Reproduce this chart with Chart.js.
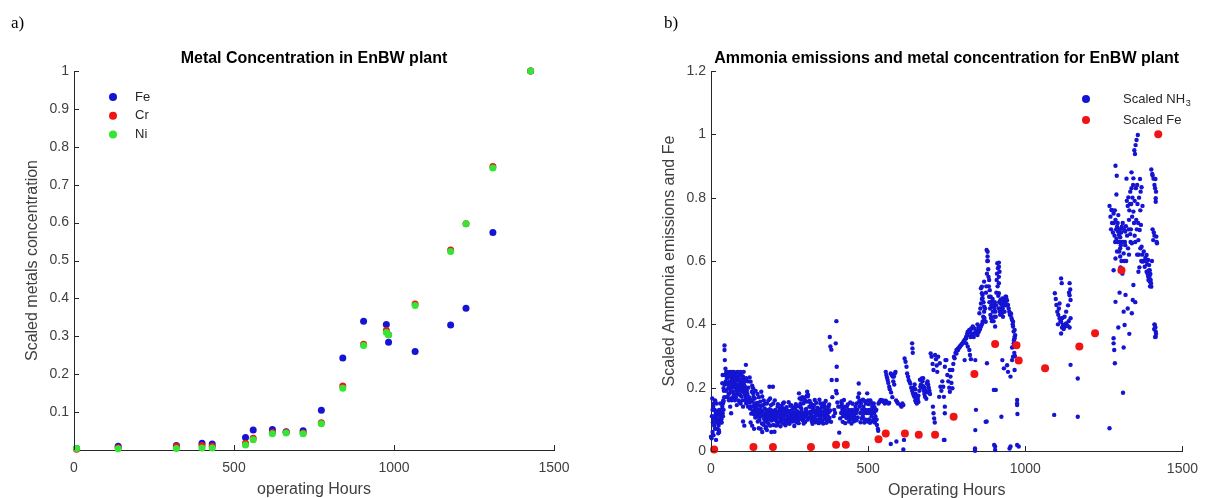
<!DOCTYPE html>
<html>
<head>
<meta charset="utf-8">
<script src="https://cdn.jsdelivr.net/npm/chart.js@4.4.1/dist/chart.umd.min.js"></script>
<style>
html, body { margin: 0; padding: 0; background: #fff; }
#wrap { position: relative; width: 1208px; height: 498px; overflow: hidden; }
canvas { position: absolute; top: 0; }
#metals { left: 0; }
#ammonia { left: 600px; }
</style>
</head>
<body>
<div id="wrap">
  <canvas id="metals" width="600" height="498"></canvas>
  <canvas id="ammonia" width="608" height="498"></canvas>
</div>
<script>
// ---- a) metal concentration ---------------------------------------------
const metalHours = [8, 138, 320, 400, 432, 536, 560, 620, 663, 716, 773, 840, 905, 976, 983, 1066, 1177, 1225, 1309, 1427];
const feConc = [0.004, 0.010, 0.012, 0.018, 0.016, 0.033, 0.053, 0.054, 0.048, 0.051, 0.105, 0.243, 0.340, 0.331, 0.284, 0.260, 0.330, 0.374, 0.574, 1.0];
const crConc = [0.002, 0.006, 0.010, 0.012, 0.010, 0.018, 0.031, 0.046, 0.047, 0.045, 0.072, 0.169, 0.279, 0.315, 0.304, 0.385, 0.528, 0.597, 0.748, 1.0];
const niConc = [0.004, 0.003, 0.004, 0.005, 0.005, 0.013, 0.027, 0.043, 0.045, 0.043, 0.069, 0.163, 0.276, 0.310, 0.304, 0.381, 0.524, 0.597, 0.744, 1.0];

const hourTicks = [0, 500, 1000, 1500];
const metalTicks = [0.1, 0.2, 0.3, 0.4, 0.5, 0.6, 0.7, 0.8, 0.9, 1];

// ---- b) ammonia + Fe ------------------------------------------------------
const feHours = [10, 135, 197, 318, 398, 429, 533, 556, 617, 661, 713, 772, 838, 904, 972, 979, 1063, 1172, 1222, 1306, 1423];
const feScaled = [0.005, 0.013, 0.013, 0.013, 0.02, 0.02, 0.037, 0.055, 0.055, 0.051, 0.051, 0.108, 0.243, 0.338, 0.334, 0.286, 0.261, 0.33, 0.372, 0.571, 1.0];
const ammoniaTicks = [0, 0.2, 0.4, 0.6, 0.8, 1, 1.2];

// [hours, scaled NH3]
const nh3Points = [
  // start-up
  [0,0.045],[2,0.04],[3,0.11],[4,0.166],[5,0.06],[6,0.09],[7,0.14],[8,0.05],[9,0.10],[10,0.08],[11,0.11],[12,0.13],[13,0.07],[14,0.10],
  [15,0.12],[16,0.035],[17,0.09],[18,0.11],[19,0.124],[20,0.07],[21,0.10],[22,0.12],[23,0.056],[24,0.08],[25,0.066],[26,0.13],[27,0.09],
  [28,0.10],[29,0.114],[30,0.09],[31,0.11],[32,0.13],[33,0.10],[34,0.12],[35,0.108],[36,0.14],[37,0.119],[38,0.15],[39,0.16],[40,0.13],
  [41,0.19],[42,0.17],[43,0.21],[44,0.24],
  [5,0.13],[9,0.15],[13,0.16],[18,0.15],[22,0.09],[26,0.06],[30,0.15],[34,0.09],[38,0.11],
  // first hump
  [43,0.333],[43,0.319],[44,0.287],[37,0.24],[36,0.214],[40,0.198],[40,0.156],[45,0.24],[50,0.249],[53,0.24],[57,0.249],[61,0.235],[52,0.214],
  [55,0.198],[58,0.182],[63,0.166],[61,0.14],[64,0.119],[69,0.187],[73,0.203],[76,0.219],[79,0.245],[82,0.235],[85,0.224],[87,0.209],
  [90,0.198],[92,0.177],[90,0.156],[82,0.145],[94,0.15],[97,0.219],[100,0.227],[102,0.235],[106,0.221],[108,0.203],[100,0.187],[97,0.172],
  [102,0.093],[106,0.08],[111,0.272],[113,0.198],[102,0.14],[47,0.22],[48,0.19],[49,0.17],[51,0.23],[54,0.21],[56,0.18],[59,0.2],[60,0.22],
  [62,0.19],[65,0.21],[66,0.23],[67,0.25],[68,0.2],[70,0.22],[71,0.24],[72,0.18],[74,0.21],[75,0.23],[77,0.2],[78,0.22],[80,0.19],[81,0.21],
  [83,0.18],[84,0.2],[86,0.23],[88,0.19],[89,0.21],[91,0.2],[93,0.22],[95,0.19],[96,0.21],[98,0.2],[99,0.23],[101,0.2],[103,0.22],[104,0.19],
  [105,0.21],[107,0.18],[109,0.2],[110,0.17],[112,0.15],[114,0.19],[115,0.16],[116,0.18],[118,0.14],
  [46,0.26],[49,0.25],[53,0.17],[57,0.16],[60,0.25],[63,0.24],[66,0.16],[70,0.17],[73,0.25],[76,0.16],[79,0.17],[84,0.25],[87,0.16],
  [91,0.24],[94,0.25],[97,0.24],[100,0.16],[104,0.25],[108,0.16],[112,0.23],[117,0.22],[119,0.2],
  // 120 - 210 h
  [123,0.232],[126,0.219],[131,0.206],[134,0.198],[130,0.187],[134,0.182],[129,0.156],[136,0.14],[134,0.124],[139,0.166],[142,0.15],
  [145,0.135],[146,0.108],[149,0.093],[152,0.072],[155,0.124],[157,0.156],[160,0.187],[163,0.172],[165,0.145],[170,0.114],[173,0.093],
  [175,0.077],[178,0.066],[181,0.103],[184,0.124],[186,0.203],[188,0.166],[191,0.145],[194,0.124],[196,0.108],[198,0.082],[202,0.061],
  [205,0.13],[207,0.114],[209,0.093],[121,0.17],[122,0.153],[124,0.134],[125,0.162],[127,0.141],[128,0.118],[132,0.158],[133,0.127],[135,0.171],
  [137,0.116],[138,0.147],[140,0.133],[141,0.106],[143,0.139],[144,0.121],[147,0.128],[148,0.152],[150,0.113],[151,0.144],[153,0.117],[154,0.098],
  [156,0.131],[158,0.109],[159,0.142],[161,0.122],[162,0.087],[164,0.127],[166,0.112],[167,0.083],[168,0.118],[169,0.101],[171,0.134],[172,0.107],
  [174,0.072],[176,0.123],[177,0.097],[179,0.129],[180,0.113],[182,0.088],[183,0.119],[185,0.102],[187,0.132],[189,0.108],[190,0.121],[192,0.096],
  [193,0.128],[195,0.111],[197,0.203],[199,0.117],[200,0.099],[201,0.126],[203,0.107],[204,0.122],[206,0.101],[208,0.118],[210,0.106],
  [126,0.09],[131,0.08],[137,0.07],[142,0.19],[148,0.18],[152,0.17],[158,0.07],[163,0.06],[168,0.16],[172,0.15],[178,0.15],[183,0.16],
  [188,0.08],[192,0.06],[198,0.15],[203,0.16],[207,0.08],
  // 210 - 380 h
  [212,0.14],[215,0.124],[217,0.108],[222,0.093],[226,0.119],[228,0.135],[233,0.124],[238,0.114],[243,0.103],[248,0.098],[254,0.103],
  [259,0.108],[264,0.114],[269,0.119],[275,0.114],[280,0.182],[282,0.166],[285,0.15],[287,0.135],[290,0.119],[292,0.098],[295,0.087],
  [299,0.114],[301,0.13],[303,0.156],[306,0.187],[309,0.177],[311,0.156],[313,0.14],[316,0.124],[319,0.108],[321,0.093],[324,0.135],
  [327,0.145],[330,0.161],[332,0.124],[337,0.114],[340,0.13],[342,0.119],[348,0.114],[353,0.124],[358,0.14],[363,0.13],[368,0.114],
  [372,0.124],[374,0.14],[214,0.117],[216,0.106],[218,0.092],[220,0.123],[223,0.098],[225,0.112],[227,0.128],[229,0.103],[231,0.109],[234,0.121],
  [236,0.097],[239,0.113],[241,0.118],[244,0.101],[246,0.107],[249,0.124],[251,0.096],[253,0.115],[256,0.119],[258,0.102],[261,0.108],[263,0.097],
  [266,0.122],[268,0.111],[271,0.104],[273,0.117],[276,0.109],[278,0.098],[281,0.121],[283,0.113],[286,0.102],[288,0.125],[291,0.108],[293,0.096],
  [296,0.118],[298,0.107],[300,0.092],[302,0.123],[304,0.112],[307,0.099],[310,0.121],[312,0.106],[315,0.103],[317,0.119],[320,0.113],[322,0.097],
  [325,0.124],[328,0.108],[331,0.101],[334,0.117],[336,0.112],[339,0.098],[341,0.114],[344,0.122],[346,0.103],[349,0.109],[351,0.118],[354,0.097],
  [356,0.113],[359,0.121],[361,0.102],[364,0.107],[366,0.119],[369,0.099],[371,0.112],[375,0.123],[377,0.104],[229,0.15],[255,0.145],[268,0.14],
  [300,0.16],[290,0.17],[305,0.175],[318,0.15],[348,0.15],[360,0.15],
  [211,0.083],[213,0.148],[219,0.133],[221,0.078],[224,0.142],[230,0.087],[232,0.153],[235,0.131],[237,0.081],[240,0.138],[242,0.089],[245,0.127],
  [247,0.154],[250,0.086],[252,0.143],[257,0.129],[260,0.093],[262,0.137],[265,0.079],[267,0.134],[270,0.148],[272,0.091],[274,0.126],[277,0.141],
  [279,0.088],[284,0.144],[289,0.163],[294,0.151],[297,0.168],[303,0.133],[308,0.172],[314,0.158],[319,0.139],[323,0.086],[326,0.143],[329,0.128],
  [333,0.091],[335,0.152],[338,0.137],[343,0.088],[345,0.162],[347,0.131],[350,0.092],[352,0.138],[355,0.149],[357,0.087],[362,0.141],[365,0.158],
  [367,0.089],[370,0.132],[373,0.094],[376,0.147],[379,0.128],[382,0.092],
  // spike near 400 h
  [378,0.36],[380,0.33],[383,0.32],[384,0.224],[386,0.17],[397,0.34],[399,0.41],[400,0.266],[400,0.224],[398,0.19],[400,0.182],[402,0.153],
  [405,0.14],[408,0.058],[395,0.12],[390,0.11],[392,0.13],
  // 410 - 530 h
  [412,0.14],[414,0.12],[416,0.15],[418,0.13],[420,0.11],[422,0.14],[424,0.12],[426,0.13],[428,0.11],[430,0.12],[432,0.14],[434,0.12],
  [436,0.11],[438,0.13],[440,0.12],[442,0.1],[444,0.12],[446,0.11],[448,0.13],[450,0.12],[452,0.1],[454,0.12],[456,0.11],[458,0.13],
  [460,0.14],[462,0.12],[464,0.15],[466,0.13],[468,0.17],[470,0.213],[471,0.182],[473,0.14],[475,0.12],[477,0.15],[479,0.16],[481,0.13],
  [483,0.11],[485,0.14],[487,0.12],[489,0.1],[491,0.13],[493,0.15],[495,0.12],[497,0.182],[499,0.129],[501,0.12],[503,0.1],[505,0.13],
  [507,0.16],[509,0.12],[511,0.11],[513,0.14],[515,0.13],[517,0.1],[519,0.12],[521,0.09],[523,0.11],[525,0.098],[527,0.1],[528,0.082],
  [531,0.07],[532,0.064],[526,0.13],[518,0.15],[500,0.16],[488,0.09],
  [411,0.103],[415,0.157],[419,0.092],[423,0.161],[427,0.088],[431,0.104],[435,0.147],[439,0.093],[443,0.153],[447,0.087],[451,0.149],[455,0.094],
  [459,0.102],[463,0.097],[467,0.106],[472,0.158],[476,0.091],[480,0.103],[484,0.162],[490,0.157],[494,0.098],[498,0.093],[502,0.148],[506,0.089],
  [510,0.152],[514,0.094],[520,0.138],[524,0.127],
  // 530 - 600 h
  [533,0.15],[536,0.155],[539,0.16],[541,0.161],[544,0.158],[547,0.16],[550,0.155],[553,0.15],[556,0.159],[559,0.155],[562,0.152],
  [565,0.15],[567,0.152],[556,0.25],[558,0.24],[560,0.232],[562,0.224],[564,0.215],[567,0.203],[569,0.195],[572,0.245],[575,0.24],
  [578,0.235],[582,0.235],[585,0.245],[587,0.25],[580,0.22],[583,0.21],[573,0.185],[577,0.17],[589,0.16],[592,0.155],[595,0.15],
  [572,0.022],[590,0.03],
  // 600 - 720 h
  [603,0.145],[606,0.14],[609,0.15],[612,0.145],[614,0.035],[612,0.005],[616,0.292],[619,0.282],[622,0.266],[624,0.245],[627,0.235],
  [629,0.224],[632,0.218],[634,0.213],[637,0.2],[640,0.19],[643,0.182],[645,0.176],[647,0.171],[650,0.16],[652,0.155],[655,0.15],
  [640,0.34],[641,0.324],[642,0.31],[645,0.2],[648,0.21],[651,0.18],[655,0.17],[658,0.165],[660,0.175],[663,0.19],[666,0.203],
  [668,0.21],[671,0.229],[673,0.22],[675,0.205],[677,0.19],[679,0.18],[681,0.171],[684,0.19],[687,0.213],[689,0.22],[691,0.21],
  [693,0.2],[695,0.19],[697,0.18],[699,0.308],[702,0.298],[705,0.275],[708,0.256],[706,0.14],[708,0.119],[710,0.103],[712,0.09],
  [713,0.303],[716,0.29],[718,0.27],[720,0.25],[665,0.225],[670,0.2],[675,0.23],[680,0.2],[685,0.165],[690,0.185],[660,0.155],[650,0.195],
  // 720 - 830 h
  [723,0.298],[726,0.171],[728,0.277],[730,0.203],[733,0.19],[736,0.22],[739,0.203],[741,0.171],[744,0.14],[743,0.035],[744,0.266],
  [746,0.287],[749,0.287],[752,0.24],[755,0.22],[758,0.2],[760,0.187],[760,0.256],[762,0.235],[765,0.215],[768,0.198],[768,0.256],
  [771,0.275],[773,0.298],[775,0.293],[778,0.31],[781,0.308],[781,0.319],[784,0.32],[786,0.319],[786,0.324],[789,0.325],[791,0.33],
  [793,0.33],[796,0.335],[798,0.338],[801,0.34],[803,0.345],[806,0.35],[807,0.287],[810,0.355],[812,0.361],[812,0.356],[815,0.37],
  [817,0.366],[817,0.377],[820,0.375],[822,0.382],[822,0.377],[825,0.38],[828,0.387],[830,0.37],[833,0.393],[744,0.119],[741,0.035],
  // 810 - 990 h
  [812,0.34],[817,0.33],[822,0.319],[824,0.303],[827,0.29],[838,0.387],[841,0.375],[843,0.372],[845,0.38],[848,0.366],[851,0.375],
  [854,0.382],[856,0.385],[859,0.393],[862,0.4],[864,0.408],[867,0.41],[869,0.414],[841,0.287],[843,0.13],[841,0.066],[840,0.008],
  [840,0.001],[854,0.435],[857,0.45],[859,0.466],[862,0.48],[864,0.493],[862,0.519],[869,0.535],[859,0.514],[862,0.498],[864,0.482],
  [867,0.47],[869,0.456],[869,0.44],[866,0.424],[874,0.408],[874,0.092],[877,0.635],[880,0.629],[880,0.614],[882,0.574],[883,0.55],
  [885,0.54],[887,0.508],[890,0.487],[885,0.487],[893,0.471],[895,0.456],[897,0.44],[901,0.424],[904,0.393],[878,0.277],[877,0.093],
  [900,0.193],[906,0.193],[904,0.003],[901,0.019],[904,0.014],[906,0.424],[911,0.593],[913,0.577],[916,0.595],[916,0.582],[918,0.566],
  [916,0.55],[916,0.53],[916,0.498],[916,0.45],[921,0.466],[921,0.477],[921,0.45],[925,0.435],[927,0.46],[927,0.482],[929,0.424],
  [932,0.471],[935,0.482],[937,0.487],[939,0.487],[942,0.475],[945,0.461],[927,0.287],[924,0.108],[932,0.261],[942,0.271],[945,0.25],
  [953,0.235],[953,0.435],[950,0.008],[953,0.014],[955,0.433],[958,0.414],[961,0.408],[961,0.393],[963,0.377],[966,0.382],[966,0.361],
  [968,0.366],[966,0.356],[963,0.34],[963,0.33],[961,0.298],[958,0.327],[958,0.287],[966,0.256],[974,0.161],[974,0.15],[974,0.145],
  [975,0.117],[974,0.019],[979,0.014],
  [870,0.42],[872,0.45],[875,0.5],[876,0.52],[878,0.56],[879,0.6],[881,0.6],[884,0.52],[886,0.47],[888,0.45],[889,0.43],[891,0.42],
  [892,0.46],[894,0.41],[896,0.48],[898,0.46],[899,0.41],[902,0.45],[903,0.47],[905,0.44],[907,0.46],[908,0.5],[909,0.54],[910,0.56],
  [912,0.52],[914,0.49],[917,0.47],[919,0.44],[920,0.43],[923,0.47],[926,0.44],[928,0.45],[930,0.44],[931,0.47],[933,0.46],[934,0.44],
  [936,0.47],[938,0.46],[940,0.48],[943,0.46],[947,0.45],[949,0.44],[951,0.43],[956,0.42],[960,0.4],[964,0.35],[965,0.31],[967,0.3],
  [969,0.33],[848,0.4],[851,0.39],[846,0.37],[836,0.36],[832,0.37],[826,0.36],
  // 1090 - 1170 h
  [1092,0.114],[1094,0.498],[1097,0.48],[1099,0.461],[1102,0.44],[1105,0.43],[1109,0.419],[1109,0.466],[1112,0.41],[1114,0.545],
  [1114,0.408],[1114,0.371],[1116,0.53],[1117,0.39],[1120,0.398],[1122,0.385],[1125,0.424],[1127,0.4],[1130,0.403],[1130,0.44],
  [1133,0.395],[1135,0.395],[1138,0.41],[1141,0.53],[1141,0.492],[1141,0.39],[1143,0.51],[1144,0.477],[1144,0.419],[1144,0.272],
  [1167,0.229],[1167,0.108],[1104,0.4],[1107,0.45],[1118,0.42],[1124,0.39],[1136,0.46],[1139,0.5],
  // 1265 - 1420 h
  [1268,0.072],[1268,0.774],[1274,0.761],[1281,0.75],[1287,0.73],[1292,0.708],[1295,0.693],[1298,0.682],[1302,0.675],[1307,0.708],
  [1318,0.693],[1334,0.685],[1339,0.656],[1318,0.65],[1302,0.64],[1313,0.624],[1292,0.63],[1302,0.614],[1287,0.608],[1281,0.571],
  [1287,0.901],[1291,0.869],[1281,0.356],[1281,0.34],[1283,0.319],[1285,0.277],[1287,0.471],[1311,0.184],[1313,0.327],[1316,0.398],
  [1313,0.44],[1319,0.493],[1339,0.435],[1342,0.477],[1344,0.524],[1344,0.861],[1365,0.859],[1370,0.833],[1367,0.819],[1334,0.819],
  [1328,0.801],[1326,0.774],[1344,0.756],[1340,0.74],[1373,0.774],[1368,0.714],[1364,0.698],[1358,0.998],[1354,0.982],[1351,0.966],
  [1347,0.95],[1349,0.938],[1401,0.889],[1404,0.875],[1414,0.859],[1416,0.819],[1415,0.798],[1415,0.787],[1360,0.666],[1370,0.645],
  [1377,0.63],[1386,0.619],[1391,0.603],[1394,0.587],[1396,0.571],[1398,0.559],[1373,0.598],[1380,0.582],[1386,0.566],[1360,0.566],
  [1391,0.551],[1401,0.519],[1396,0.535],[1409,0.69],[1417,0.677],[1419,0.656],[1407,0.666],[1412,0.398],[1415,0.377],[1415,0.361],
  [1410,0.385],[1414,0.39],[1300,0.66],[1305,0.69],[1310,0.72],[1296,0.745],[1285,0.76],[1276,0.72],[1330,0.62],[1336,0.7],[1348,0.79],
  [1352,0.83],[1356,0.84],[1362,0.8],[1366,0.76],[1350,0.66],[1356,0.62],[1323,0.79],[1330,0.73],
  [1271,0.74],[1273,0.7],[1277,0.76],[1279,0.69],[1282,0.72],[1284,0.68],[1286,0.66],[1289,0.7],[1290,0.67],[1293,0.66],[1294,0.72],
  [1297,0.7],[1299,0.63],[1301,0.7],[1303,0.58],[1304,0.65],[1306,0.6],[1308,0.66],[1309,0.56],[1312,0.66],[1314,0.7],[1315,0.6],
  [1317,0.66],[1320,0.71],[1321,0.6],[1324,0.68],[1327,0.64],[1329,0.7],[1331,0.76],[1333,0.78],[1335,0.66],[1337,0.78],[1338,0.83],
  [1341,0.8],[1343,0.84],[1346,0.72],[1348,0.68],[1353,0.73],[1355,0.7],[1357,0.78],[1359,0.72],[1361,0.62],[1363,0.58],[1366,0.64],
  [1369,0.6],[1372,0.62],[1375,0.6],[1378,0.6],[1382,0.61],[1384,0.6],[1388,0.59],[1389,0.56],[1392,0.54],[1393,0.57],[1395,0.55],
  [1397,0.52],[1399,0.54],[1400,0.53],[1403,0.6],[1405,0.87],[1408,0.86],[1411,0.84],[1413,0.83],[1405,0.7],[1411,0.68],[1418,0.66],
  [1416,0.37],[1413,0.36],[1411,0.4],[1296,0.39],[1300,0.5],[1326,0.45],[1331,0.37],[1350,0.47],[1290,0.81],[1322,0.86],[1338,0.88]
];

// ---- colours / fonts -----------------------------------------------------
const BLUE = '#1414d2', RED = '#f01414', GREEN = '#33e633';
const AXIS = '#262626', TICKTXT = '#404040';
Chart.defaults.font.family = '"Liberation Sans", Arial, sans-serif';

function toXY(xs, ys) { return xs.map((x, i) => ({ x: x, y: ys[i] })); }

// inward ticks, titles, legend, panel label
function decor(o) {
  return {
    id: 'decor',
    afterDraw(chart) {
      const ctx = chart.ctx, a = chart.chartArea;
      const xs = chart.scales.x, ys = chart.scales.y;
      ctx.save();
      ctx.strokeStyle = AXIS;
      ctx.lineWidth = 1;
      ctx.beginPath();
      o.xTicks.forEach(v => {
        const px = Math.round(xs.getPixelForValue(v)) + 0.5;
        ctx.moveTo(px, a.bottom); ctx.lineTo(px, a.bottom - 5);
      });
      o.yTicks.forEach(v => {
        const py = Math.round(ys.getPixelForValue(v)) + 0.5;
        ctx.moveTo(a.left, py); ctx.lineTo(a.left + 5, py);
      });
      ctx.stroke();

      const cx = (a.left + a.right) / 2, cy = (a.top + a.bottom) / 2;
      // panel label
      ctx.fillStyle = '#000';
      ctx.font = '17px "Liberation Serif", serif';
      ctx.textAlign = 'left';
      ctx.textBaseline = 'alphabetic';
      ctx.fillText(o.panel, o.panelX, 28);
      // title
      ctx.font = 'bold 16px "Liberation Sans", Arial';
      ctx.textAlign = 'center';
      ctx.fillText(o.title, cx, a.top - 8);
      // axis titles
      ctx.fillStyle = TICKTXT;
      ctx.font = '16px "Liberation Sans", Arial';
      ctx.fillText(o.xTitle, cx, a.bottom + 44);
      ctx.save();
      ctx.translate(a.left - 41, cy);
      ctx.rotate(-Math.PI / 2);
      ctx.textBaseline = 'middle';
      ctx.fillText(o.yTitle, 0, 0);
      ctx.restore();
      // legend
      ctx.textAlign = 'left';
      ctx.textBaseline = 'middle';
      o.legend.forEach((it, i) => {
        const y = a.top + o.legendTop + i * o.legendStep;
        ctx.fillStyle = it.color;
        ctx.beginPath();
        ctx.arc(a.left + o.legendMarkX, y, 4, 0, Math.PI * 2);
        ctx.fill();
        ctx.fillStyle = '#262626';
        ctx.font = '13px "Liberation Sans", Arial';
        const tx = a.left + o.legendTextX;
        ctx.fillText(it.label, tx, y);
        if (it.sub) {
          const w = ctx.measureText(it.label).width;
          ctx.font = '9px "Liberation Sans", Arial';
          ctx.fillText(it.sub, tx + w + 0.5, y + 5);
        }
      });
      ctx.restore();
    }
  };
}

function axes(xTicks, yTicks, yMax, yWidth, xHeight) {
  const tickFont = { size: 14 };
  return {
    x: {
      type: 'linear', min: 0, max: 1500,
      afterBuildTicks: s => { s.ticks = xTicks.map(v => ({ value: v })); },
      afterFit: s => { s.height = xHeight; },
      grid: { display: false, drawTicks: false },
      border: { display: true, color: AXIS, width: 1 },
      ticks: { color: TICKTXT, font: tickFont, padding: 10, maxRotation: 0, callback: v => String(v) }
    },
    y: {
      type: 'linear', min: 0, max: yMax,
      afterBuildTicks: s => { s.ticks = yTicks.map(v => ({ value: v })); },
      afterFit: s => { s.width = yWidth; },
      grid: { display: false, drawTicks: false },
      border: { display: true, color: AXIS, width: 1 },
      ticks: { color: TICKTXT, font: tickFont, padding: 5, callback: v => String(v) }
    }
  };
}

const common = {
  responsive: false,
  animation: false,
  devicePixelRatio: 1,
  events: [],
  plugins: { legend: { display: false }, tooltip: { enabled: false }, title: { display: false } }
};

// ---- chart a ---------------------------------------------------------------
new Chart(document.getElementById('metals'), {
  type: 'scatter',
  data: {
    datasets: [
      { label: 'Fe', data: toXY(metalHours, feConc), backgroundColor: BLUE, borderWidth: 0, pointRadius: 3.5, clip: false, order: 3 },
      { label: 'Cr', data: toXY(metalHours, crConc), backgroundColor: RED, borderWidth: 0, pointRadius: 3.5, clip: false, order: 2 },
      { label: 'Ni', data: toXY(metalHours, niConc), backgroundColor: GREEN, borderWidth: 0, pointRadius: 3.5, clip: false, order: 1 }
    ]
  },
  options: Object.assign({}, common, {
    layout: { autoPadding: false, padding: { left: 0, right: 46, top: 71, bottom: 0 } },
    scales: axes(hourTicks, metalTicks, 1, 74, 48)
  }),
  plugins: [decor({
    xTicks: hourTicks, yTicks: metalTicks,
    panel: 'a)', panelX: 11,
    title: 'Metal Concentration in EnBW plant',
    xTitle: 'operating Hours', yTitle: 'Scaled metals concentration',
    legend: [{ label: 'Fe', color: BLUE }, { label: 'Cr', color: RED }, { label: 'Ni', color: GREEN }],
    legendTop: 26, legendStep: 18.7, legendMarkX: 39, legendTextX: 61
  })]
});

// ---- chart b ---------------------------------------------------------------
new Chart(document.getElementById('ammonia'), {
  type: 'scatter',
  data: {
    datasets: [
      { label: 'Scaled NH3', data: nh3Points.map(p => ({ x: p[0], y: p[1] })), backgroundColor: BLUE, borderWidth: 0, pointRadius: 2.2, clip: false, order: 2 },
      { label: 'Scaled Fe', data: toXY(feHours, feScaled), backgroundColor: RED, borderWidth: 0, pointRadius: 4, clip: false, order: 1 }
    ]
  },
  options: Object.assign({}, common, {
    layout: { autoPadding: false, padding: { left: 0, right: 18, top: 71, bottom: 0 } },
    scales: axes(hourTicks, ammoniaTicks, 1.2, 111, 47)
  }),
  plugins: [decor({
    xTicks: hourTicks, yTicks: ammoniaTicks,
    panel: 'b)', panelX: 64,
    title: 'Ammonia emissions and metal concentration for EnBW plant',
    xTitle: 'Operating Hours', yTitle: 'Scaled Ammonia emissions and Fe',
    legend: [{ label: 'Scaled NH', sub: '3', color: BLUE }, { label: 'Scaled Fe', color: RED }],
    legendTop: 28, legendStep: 21, legendMarkX: 375, legendTextX: 412
  })]
});
</script>
</body>
</html>
